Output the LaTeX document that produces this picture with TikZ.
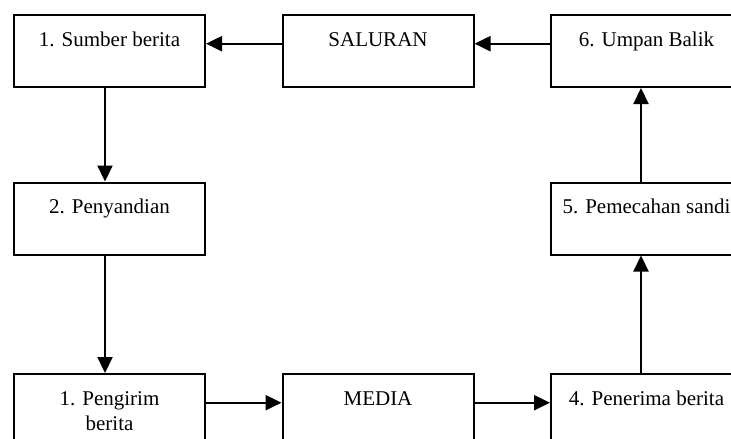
\documentclass[tikz,border=0pt]{standalone}
\usepackage{fontspec}
\setmainfont{Liberation Serif}
\usetikzlibrary{arrows.meta}

\begin{document}
\begin{tikzpicture}[x=1pt, y=-1pt, every node/.style={font=\fontsize{21}{25}\selectfont},
	box/.style={draw, line width=2pt, minimum width=191pt, inner ysep=0pt, text height=31pt, text depth=41pt, align=center},
	arr/.style={line width=2.2pt, -{Triangle[length=16pt, width=15pt]}}]
	\useasboundingbox (0,0) rectangle (731,439);
	\clip (0,0) rectangle (731,439);
	\node[box] (sumber) at (109.5,51) {1. Sumber berita};
	\node[box] (saluran) at (378,51) {SALURAN};
	\node[box] (umpan) at (646.5,51) {6. Umpan Balik};
	\node[box] (sandi) at (109.5,218.5) {2. Penyandian};
	\node[box] (pecah) at (646.5,218.5) {5. Pemecahan sandi};
	\node[box, text height=56pt, text depth=16pt] (kirim) at (109.5,410) {1. Pengirim\\berita};
	\node[box] (media) at (378,410) {MEDIA};
	\node[box] (terima) at (646.5,410) {4. Penerima berita};
	\draw[arr] (saluran.mid west) -- (sumber.mid east);
	\draw[arr] (umpan.mid west) -- (saluran.mid east);
	\draw[arr] ([xshift=-4.5pt]sumber.south) -- ([xshift=-4.5pt]sandi.north);
	\draw[arr] ([xshift=-4.5pt]sandi.south) -- ([xshift=-4.5pt]kirim.north);
	\draw[arr] ([yshift=25pt]kirim.mid east) -- (media.mid west);
	\draw[arr] (media.mid east) -- (terima.mid west);
	\draw[arr] ([xshift=-5.5pt]terima.north) -- ([xshift=-5.5pt]pecah.south);
	\draw[arr] ([xshift=-5.5pt]pecah.north) -- ([xshift=-5.5pt]umpan.south);
\end{tikzpicture}
\end{document}
